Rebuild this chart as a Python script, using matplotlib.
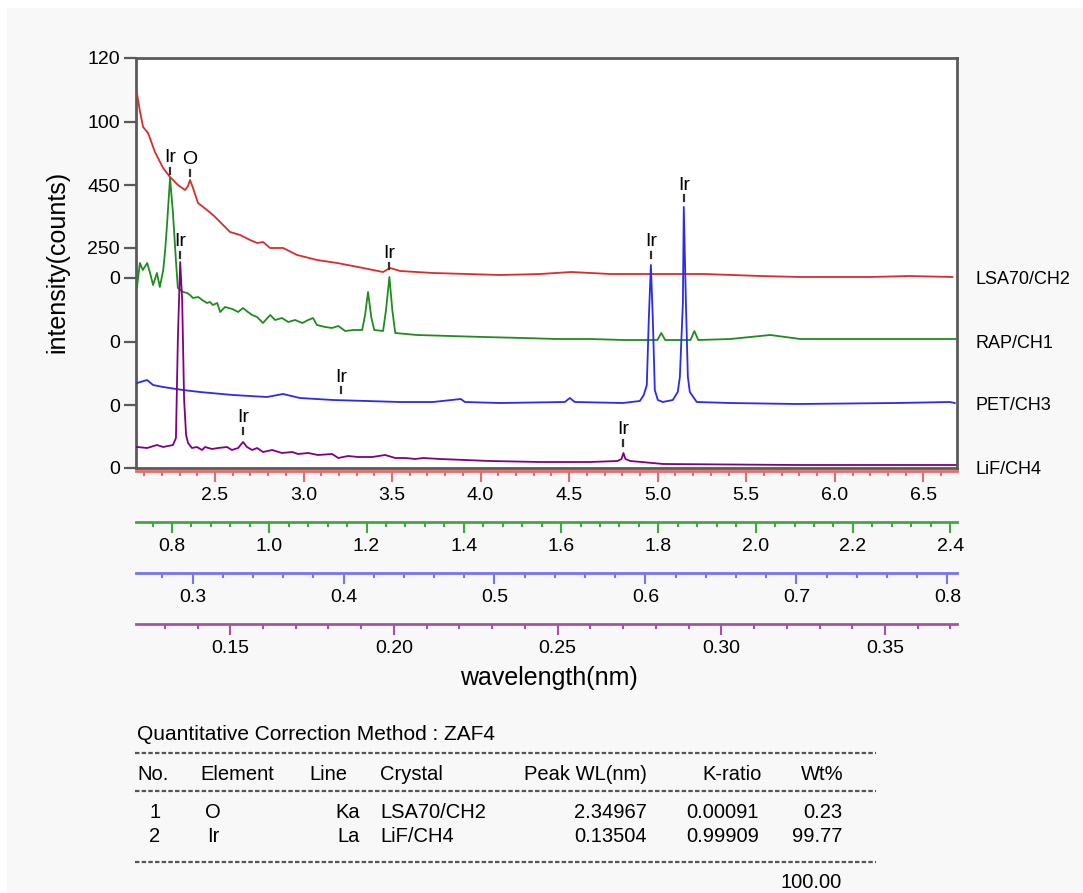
import matplotlib.pyplot as plt
from matplotlib.lines import Line2D
from matplotlib.patches import Rectangle
from matplotlib.ticker import MultipleLocator, FormatStrFormatter

plt.rcParams['font.family'] = ['Liberation Sans', 'DejaVu Sans']

W, H = 1083, 893

# LSA70/CH2 spectrum (wavelength nm, intensity above channel zero)
lsa_wl = [2.060, 2.077, 2.094, 2.122, 2.161, 2.207, 2.246, 2.291, 2.331, 2.348,
          2.359, 2.376, 2.404, 2.455, 2.495, 2.529, 2.585, 2.642, 2.698, 2.738,
          2.772, 2.811, 2.885, 2.964, 3.077, 3.190, 3.337, 3.449, 3.489, 3.546,
          3.732, 3.924, 4.111, 4.336, 4.512, 4.732, 4.952, 5.263, 5.579, 5.805,
          6.003, 6.201, 6.421, 6.664]
lsa_int = [184, 166, 151, 145, 126, 110, 101, 93, 88, 92,
           98, 90, 75, 68, 62, 56, 46, 43, 38, 35,
           36, 30, 30, 23, 18, 15, 10, 6, 10, 7,
           5, 4, 3, 4, 6, 4, 4, 4, 2, 1,
           1, 1, 2, 1]

# RAP/CH1 spectrum
rap_wl = [0.728, 0.734, 0.740, 0.749, 0.755, 0.761, 0.769, 0.775, 0.782, 0.786,
          0.790, 0.796, 0.802, 0.808, 0.812, 0.823, 0.831, 0.837, 0.843, 0.854,
          0.862, 0.872, 0.878, 0.884, 0.893, 0.899, 0.909, 0.924, 0.936, 0.946,
          0.956, 0.965, 0.975, 0.987, 1.002, 1.012, 1.026, 1.039, 1.053, 1.068,
          1.080, 1.090, 1.098, 1.115, 1.129, 1.142, 1.156, 1.173, 1.191, 1.197,
          1.203, 1.210, 1.216, 1.234, 1.240, 1.247, 1.253, 1.259, 1.304, 1.372,
          1.440, 1.522, 1.592, 1.660, 1.728, 1.798, 1.806, 1.814, 1.866, 1.874,
          1.882, 1.948, 2.030, 2.092, 2.195, 2.298, 2.411]
rap_int = [55, 79, 72, 79, 69, 57, 69, 55, 72, 92,
           119, 164, 129, 82, 54, 50, 49, 47, 44, 45,
           42, 39, 40, 37, 39, 30, 35, 33, 30, 34,
           30, 27, 25, 19, 27, 22, 24, 20, 22, 19,
           22, 24, 17, 15, 14, 16, 11, 12, 12, 27,
           50, 24, 12, 11, 32, 65, 32, 9, 7, 6,
           5, 4, 3, 3, 2, 2, 9, 2, 2, 11,
           2, 3, 7, 3, 3, 3, 3]

# PET/CH3 spectrum
pet_wl = [0.2632, 0.2698, 0.2738, 0.2804, 0.2936, 0.3049, 0.3267, 0.3493, 0.3599, 0.3711,
          0.3930, 0.4155, 0.4373, 0.4592, 0.4777, 0.4804, 0.5036, 0.5466, 0.5499, 0.5532,
          0.5850, 0.5963, 0.5989, 0.6009, 0.6022, 0.6036, 0.6049, 0.6062, 0.6082, 0.6115,
          0.6181, 0.6214, 0.6228, 0.6248, 0.6254, 0.6268, 0.6281, 0.6294, 0.6340, 0.6559,
          0.7002, 0.7665, 0.8016, 0.8049]
pet_int = [22, 25, 20, 18, 15, 13, 10, 8, 11, 7,
           5, 4, 3, 3, 6, 3, 2, 3, 7, 3,
           2, 4, 10, 20, 85, 140, 85, 15, 5, 3,
           5, 13, 28, 102, 198, 102, 28, 13, 3, 2,
           1, 2, 3, 2]

# LiF/CH4 spectrum
lif_wl = [0.1215, 0.1246, 0.1276, 0.1295, 0.1325, 0.1334, 0.1340, 0.1347, 0.1353, 0.1359,
          0.1365, 0.1371, 0.1383, 0.1398, 0.1414, 0.1423, 0.1444, 0.1463, 0.1490, 0.1505,
          0.1524, 0.1539, 0.1551, 0.1567, 0.1582, 0.1600, 0.1628, 0.1658, 0.1689, 0.1707,
          0.1738, 0.1768, 0.1811, 0.1830, 0.1860, 0.1891, 0.1934, 0.1973, 0.2004, 0.2035,
          0.2065, 0.2089, 0.2141, 0.2294, 0.2447, 0.2600, 0.2683, 0.2695, 0.2701, 0.2707,
          0.2722, 0.2823, 0.3233, 0.3456, 0.3716]
lif_int = [21, 20, 23, 21, 23, 30, 131, 206, 168, 68,
           33, 25, 20, 21, 18, 21, 19, 20, 21, 18,
           20, 26, 21, 18, 20, 16, 18, 15, 16, 14,
           15, 13, 14, 10, 12, 11, 11, 13, 10, 10,
           9, 10, 9, 7, 6, 6, 7, 9, 15, 9,
           7, 4, 3, 3, 3]

# y axis of the stacked display
ytick_pos = [0, 63, 126, 190, 220, 283, 346, 410]
ytick_labels = ['0', '0', '0', '0', '250', '450', '100', '120']

# peak labels
ann_channel = ['RAP/CH1', 'LSA70/CH2', 'LiF/CH4', 'RAP/CH1', 'PET/CH3',
               'LiF/CH4', 'PET/CH3', 'PET/CH3', 'LiF/CH4']
ann_wl = [0.796, 2.359, 0.1347, 1.247, 0.3983, 0.1539, 0.6036, 0.6254, 0.2701]
ann_label = ['Ir', 'O', 'Ir', 'Ir', 'Ir', 'Ir', 'Ir', 'Ir', 'Ir']
ann_height = [166, 100, 208, 71, 10, 32, 145, 202, 20]

# quantitative table
table_title = 'Quantitative Correction Method : ZAF4'
table_header = ['No.', 'Element', 'Line', 'Crystal', 'Peak WL(nm)', 'K-ratio', 'Wt%']
table_rows = [['1', 'O', 'Ka', 'LSA70/CH2', '2.34967', '0.00091', '0.23'],
              ['2', 'Ir', 'La', 'LiF/CH4', '0.13504', '0.99909', '99.77']]
table_total = '100.00'


def fx(px):
    return px / W


def fy(py):
    return 1 - py / H


def main():
    channels = {
        'LSA70/CH2': dict(wl=lsa_wl, val=lsa_int, offset=190, color='#dd2b2b',
                          scale='#e86a6a', xlim=(2.054, 6.69), major=0.5, minor=0.1,
                          fmt='%.1f', scale_y=471),
        'RAP/CH1': dict(wl=rap_wl, val=rap_int, offset=126, color='#1f8c1f',
                        scale='#3fa83f', xlim=(0.726, 2.414), major=0.2, minor=0.04,
                        fmt='%.1f', scale_y=522),
        'PET/CH3': dict(wl=pet_wl, val=pet_int, offset=63, color='#2a2af0',
                        scale='#7474f5', xlim=(0.2625, 0.8064), major=0.1, minor=0.02,
                        fmt='%.1f', scale_y=573),
        'LiF/CH4': dict(wl=lif_wl, val=lif_int, offset=0, color='#800080',
                        scale='#a552a5', xlim=(0.1212, 0.372), major=0.05, minor=0.01,
                        fmt='%.2f', scale_y=624),
    }

    fig = plt.figure(figsize=(W / 100, H / 100), dpi=100)
    fig.patches.append(Rectangle((fx(7), 0), 1 - fx(7), fy(8), transform=fig.transFigure,
                                 facecolor='#f8f8f8', edgecolor='none', zorder=-5))

    left, right = fx(136), fx(957)
    ax = fig.add_axes([left, fy(468), right - left, fy(58) - fy(468)])
    ax.set_ylim(0, 410)
    ax.set_xlim(*channels['LSA70/CH2']['xlim'])
    ax.set_xticks([])
    for sp in ax.spines.values():
        sp.set_color('#5a5a5a')
        sp.set_linewidth(2)
    ax.set_yticks(ytick_pos, ytick_labels)
    ax.tick_params(axis='y', length=8.5, width=1.6, color='#5a5a5a', labelsize=14, pad=3)

    # each crystal has its own wavelength scale
    twins = {}
    for name, ch in channels.items():
        tw = ax.twiny()
        tw.set_xlim(*ch['xlim'])
        tw.set_ylim(0, 410)
        tw.axis('off')
        tw.plot(ch['wl'], [v + ch['offset'] for v in ch['val']], color=ch['color'], lw=1.3)
        twins[name] = tw
        ax.text(1.022, ch['offset'] - 1, name, transform=ax.get_yaxis_transform(),
                fontsize=13, va='center', ha='left')

        # wavelength scale below the plot
        sa = fig.add_axes([left, fy(ch['scale_y']), right - left, 0.0001])
        sa.set_xlim(*ch['xlim'])
        sa.set_yticks([])
        sa.patch.set_visible(False)
        for s in ['top', 'left', 'right']:
            sa.spines[s].set_visible(False)
        sa.spines['bottom'].set_color(ch['scale'])
        sa.spines['bottom'].set_linewidth(2)
        sa.xaxis.set_major_locator(MultipleLocator(ch['major']))
        sa.xaxis.set_minor_locator(MultipleLocator(ch['minor']))
        sa.xaxis.set_major_formatter(FormatStrFormatter(ch['fmt']))
        sa.tick_params(which='major', length=8, width=1.5, color=ch['scale'],
                       labelsize=14, pad=3.5)
        sa.tick_params(which='minor', length=3.5, width=1.5, color=ch['scale'])

    for name, wl, lab, h in zip(ann_channel, ann_wl, ann_label, ann_height):
        tw = twins[name]
        off = channels[name]['offset']
        tw.plot([wl, wl], [off + h + 2, off + h + 8], color='#333333', lw=1.6)
        tw.text(wl, off + h + 18, lab, ha='center', va='center', fontsize=14)

    fig.text(fx(57), fy(262), 'intensity(counts)', rotation=90, fontsize=18,
             ha='center', va='center')
    fig.text(fx(549), fy(678), 'wavelength(nm)', fontsize=18, ha='center', va='center')

    # table below the chart
    fig.text(fx(137), fy(735), table_title, fontsize=15, va='center')
    for y in [753, 791, 862]:
        fig.add_artist(Line2D([fx(135), fx(876)], [fy(y), fy(y)], color='#555555',
                              lw=1.6, linestyle=(0, (2, 1))))
    head_x = [(137, 'left'), (200, 'left'), (309, 'left'), (380, 'left'),
              (647, 'right'), (762, 'right'), (844, 'right')]
    for (x, ha), txt in zip(head_x, table_header):
        fig.text(fx(x), fy(775), txt, fontsize=14.5, ha=ha, va='center')
    row_x = [(155, 'center'), (213, 'center'), (360, 'right'), (380, 'left'),
             (647, 'right'), (759, 'right'), (842, 'right')]
    for y, row in zip([812, 836], table_rows):
        for (x, ha), txt in zip(row_x, row):
            fig.text(fx(x), fy(y), txt, fontsize=14.5, ha=ha, va='center')
    fig.text(fx(842), fy(883), table_total, fontsize=14.5, ha='right', va='center')

    fig.savefig('out.png', dpi=100)


if __name__ == '__main__':
    main()
